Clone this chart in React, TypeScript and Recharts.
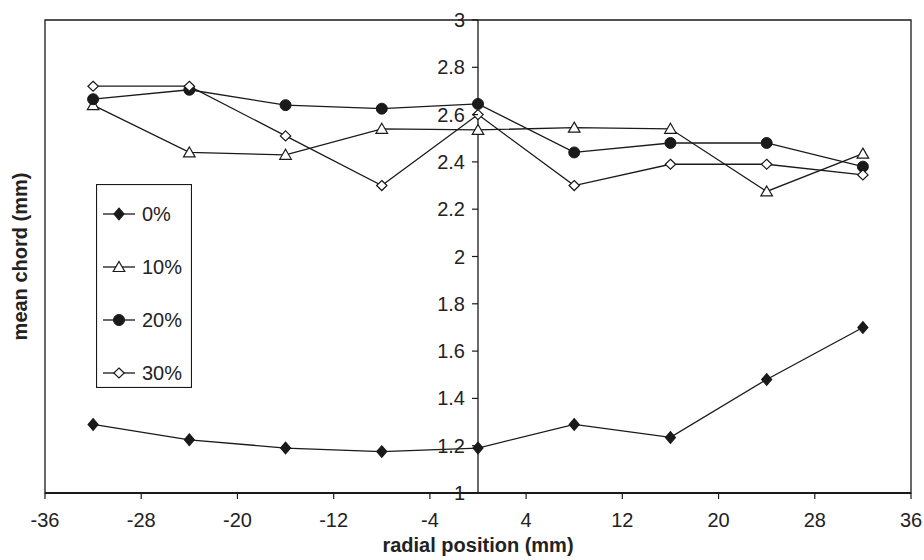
import React from "react"
import { LineChart, Line, XAxis, YAxis, ReferenceLine, ReferenceArea, Legend, Label } from "recharts"

// radial position (mm) of each measurement
const radialPosition = [-32, -24, -16, -8, 0, 8, 16, 24, 32]

// mean chord (mm) per series
const chord0 = [1.29, 1.225, 1.19, 1.175, 1.19, 1.29, 1.235, 1.48, 1.7]
const chord10 = [2.64, 2.44, 2.43, 2.54, 2.535, 2.545, 2.54, 2.275, 2.435]
const chord20 = [2.665, 2.705, 2.64, 2.625, 2.645, 2.44, 2.48, 2.48, 2.38]
const chord30 = [2.72, 2.72, 2.51, 2.3, 2.6, 2.3, 2.39, 2.39, 2.345]

const xTicks = [-36, -28, -20, -12, -4, 4, 12, 20, 28, 36]
const yTicks = [1, 1.2, 1.4, 1.6, 1.8, 2, 2.2, 2.4, 2.6, 2.8, 3]

const seriesNames = ["0%", "10%", "20%", "30%"]

const data = radialPosition.map((x, i) => ({
  x,
  c0: chord0[i],
  c10: chord10[i],
  c20: chord20[i],
  c30: chord30[i],
}))

const FONT = '"Liberation Sans", Arial, sans-serif'
const INK = "#1a1a1a"

const W = 924
const H = 560
const MARGIN = { top: 20, right: 13, left: 0, bottom: 0 }
const Y_AXIS_W = 45
const X_AXIS_H = 67
// the value axis crosses at x = 0, in the middle of the [-36, 36] domain
const PLOT_W = W - MARGIN.left - MARGIN.right - Y_AXIS_W
const AXIS_X = MARGIN.left + Y_AXIS_W + PLOT_W / 2

type MarkerKind = "diamondFilled" | "triangle" | "circle" | "diamondOpen"

function Marker({ kind, cx, cy }: { kind: MarkerKind; cx: number; cy: number }) {
  if (kind === "circle") {
    return <circle cx={cx} cy={cy} r={5.5} fill={INK} stroke={INK} strokeWidth={1} />
  }
  if (kind === "triangle") {
    const pts = `${cx},${cy - 5.5} ${cx + 5.8},${cy + 4.5} ${cx - 5.8},${cy + 4.5}`
    return <polygon points={pts} fill="#fff" stroke={INK} strokeWidth={1.2} />
  }
  const hw = kind === "diamondFilled" ? 5 : 5.2
  const hh = kind === "diamondFilled" ? 5.8 : 5
  const pts = `${cx},${cy - hh} ${cx + hw},${cy} ${cx},${cy + hh} ${cx - hw},${cy}`
  return (
    <polygon
      points={pts}
      fill={kind === "diamondFilled" ? INK : "#fff"}
      stroke={INK}
      strokeWidth={1.2}
    />
  )
}

const markerKinds: MarkerKind[] = ["diamondFilled", "triangle", "circle", "diamondOpen"]
const dataKeys = ["c0", "c10", "c20", "c30"]

const dotFor = (kind: MarkerKind) => (p: any) => {
  if (p.cx == null || p.cy == null) return <g key={`e-${kind}-${p.index}`} />
  return (
    <g key={`${kind}-${p.index}`}>
      <Marker kind={kind} cx={p.cx} cy={p.cy} />
    </g>
  )
}

function YTick(props: any) {
  const { y, payload } = props
  return (
    <g>
      <line x1={AXIS_X - 6} x2={AXIS_X} y1={y} y2={y} stroke={INK} strokeWidth={1.2} />
      <text
        x={AXIS_X - 13}
        y={y}
        textAnchor="end"
        dominantBaseline="central"
        fontSize={20}
        fontFamily={FONT}
        fill="#222"
      >
        {payload.value}
      </text>
    </g>
  )
}

function YTitle(props: any) {
  const vb = props.viewBox || { x: 0, y: MARGIN.top, height: 473 }
  const cx = vb.x + 27
  const cy = vb.y + vb.height / 2
  return (
    <text
      x={cx}
      y={cy}
      transform={`rotate(-90 ${cx} ${cy})`}
      textAnchor="middle"
      fontSize={20}
      fontWeight="bold"
      fontFamily={FONT}
      fill="#222"
    >
      mean chord (mm)
    </text>
  )
}

function LegendBox() {
  const rowY = [30, 83, 136, 189]
  return (
    <svg width={96} height={204} style={{ display: "block" }}>
      <rect x={0.5} y={0.5} width={95} height={203} fill="#fff" stroke={INK} strokeWidth={1.2} />
      {seriesNames.map((name, i) => (
        <g key={name}>
          <line x1={7} x2={39} y1={rowY[i]} y2={rowY[i]} stroke={INK} strokeWidth={1.3} />
          <Marker kind={markerKinds[i]} cx={23} cy={rowY[i]} />
          <text
            x={46}
            y={rowY[i]}
            dominantBaseline="central"
            fontSize={20}
            fontFamily={FONT}
            fill="#222"
          >
            {name}
          </text>
        </g>
      ))}
    </svg>
  )
}

export default function App() {
  return (
    <div style={{ position: "absolute", left: 0, top: 0, width: W, height: H, background: "#fff" }}>
      <LineChart width={W} height={H} data={data} margin={MARGIN}>
        <ReferenceArea
          x1={-36}
          x2={36}
          y1={1}
          y2={3}
          fill="none"
          stroke={INK}
          strokeWidth={1.3}
          ifOverflow="visible"
        />
        <XAxis
          type="number"
          dataKey="x"
          domain={[-36, 36]}
          ticks={xTicks}
          height={X_AXIS_H}
          tickSize={6}
          tickMargin={14}
          axisLine={{ stroke: INK, strokeWidth: 2.2 }}
          tickLine={{ stroke: INK, strokeWidth: 1.2 }}
          tick={{ fill: "#222", fontSize: 20, fontFamily: FONT }}
          interval={0}
        >
          <Label
            value="radial position (mm)"
            position="insideBottom"
            offset={8}
            fontSize={20}
            fontWeight="bold"
            fontFamily={FONT}
            fill="#222"
          />
        </XAxis>
        <YAxis
          type="number"
          domain={[1, 3]}
          ticks={yTicks}
          width={Y_AXIS_W}
          axisLine={false}
          tickLine={false}
          tick={(p: any) => <YTick {...p} />}
          interval={0}
        >
          <Label content={(p: any) => <YTitle {...p} />} />
        </YAxis>
        <ReferenceLine x={0} stroke={INK} strokeWidth={1.3} ifOverflow="visible" />
        {dataKeys.map((k, i) => (
          <Line
            key={k}
            dataKey={k}
            name={seriesNames[i]}
            type="linear"
            stroke={INK}
            strokeWidth={1.3}
            dot={dotFor(markerKinds[i])}
            activeDot={false}
            isAnimationActive={false}
          />
        ))}
        <Legend
          layout="vertical"
          align="center"
          verticalAlign="middle"
          content={() => <LegendBox />}
          wrapperStyle={{ position: "absolute", left: 96, top: 184, width: 96, height: 204 }}
        />
      </LineChart>
    </div>
  )
}
